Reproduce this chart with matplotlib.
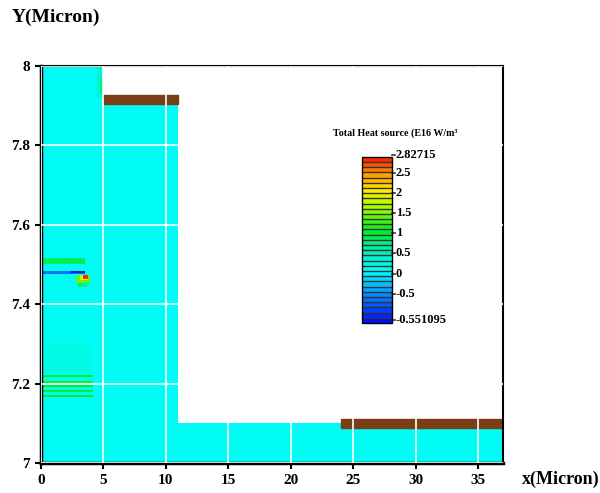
import numpy as np
import matplotlib
matplotlib.use('Agg')
import matplotlib.pyplot as plt
from matplotlib.colors import LinearSegmentedColormap, ListedColormap, BoundaryNorm
from matplotlib.patches import Rectangle

plt.rcParams['font.family'] = ['Liberation Serif', 'DejaVu Serif']
plt.rcParams['font.weight'] = 'bold'

# electrodes: x0, x1, y0, y1 (micron)
elec_x0 = [5, 24]
elec_x1 = [11, 37]
elec_y0 = [7.905, 7.088]
elec_y1 = [7.927, 7.111]

# heat source features: y0, y1, x0, x1, value (E16 W/m^3)
feat_y0 = [7.225, 7.503, 7.476, 7.477, 7.442, 7.452, 7.460, 7.464,
           7.217, 7.202, 7.191, 7.179, 7.167, 7.92, 7.93]
feat_y1 = [7.300, 7.518, 7.484, 7.482, 7.473, 7.473, 7.473, 7.473,
           7.223, 7.208, 7.197, 7.185, 7.173, 8.0, 7.97]
feat_x0 = [0.0, 0.0, 0.0, 2.4, 3.0, 2.8, 3.1, 3.4,
           0.0, 0.0, 0.0, 0.0, 0.0, 4.5, 4.75]
feat_x1 = [4.0, 3.5, 3.5, 3.45, 3.7, 3.9, 3.8, 3.75,
           4.2, 4.2, 4.2, 4.2, 4.2, 5.0, 5.0]
feat_val = [0.25, 0.85, -0.3, -0.5, 0.7, 1.4, 1.9, 2.8,
            1.0, 1.1, 1.0, 0.9, 1.0, 0.3, 0.7]

vmin, vmax = -0.551095, 2.82715
cb_labels = ['2.82715', '2.5', '2', '1.5', '1', '0.5', '0', '-0.5', '-0.551095']

# colour bands: 10 below zero, 22 above
levels = np.concatenate([np.linspace(vmin, 0, 11), np.linspace(0, vmax, 23)[1:]])
band_pos = [0.0, 0.15, 0.3125, 0.45, 0.56, 0.70, 0.80, 0.90, 1.0]
band_col = ['#0000ff', '#0078ff', '#00ffff', '#00f0b0', '#00f020', '#a0ff00',
            '#ffee00', '#ff9a00', '#ff1a00']

base = LinearSegmentedColormap.from_list('hs', list(zip(band_pos, band_col)))
nb = len(levels) - 1
cmap = ListedColormap([base((i + 0.5) / nb) for i in range(nb)])
cmap.set_bad('white')
norm = BoundaryNorm(levels, cmap.N)

# field on a grid
xe = np.linspace(0, 37, 371)
ye = np.linspace(7, 8, 801)
xc = 0.5 * (xe[:-1] + xe[1:])
yc = 0.5 * (ye[:-1] + ye[1:])
X, Y = np.meshgrid(xc, yc)
field = np.zeros_like(X)
for y0, y1, x0, x1, v in zip(feat_y0, feat_y1, feat_x0, feat_x1, feat_val):
    field[(Y >= y0) & (Y <= y1) & (X >= x0) & (X <= x1)] = v
inside = ((X <= 5) | ((X <= 11) & (Y <= 7.905)) | (Y <= 7.1))
field = np.ma.masked_where(~inside, field)

fig = plt.figure(figsize=(6, 4.93), dpi=100)
ax = fig.add_axes([0.0683, 0.0609, 0.77, 0.805])
ax.pcolormesh(xe, ye, field, cmap=cmap, norm=norm, zorder=1)
for x0, x1, y0, y1 in zip(elec_x0, elec_x1, elec_y0, elec_y1):
    ax.add_patch(Rectangle((x0, y0), x1 - x0, y1 - y0, color='#7a3e16', zorder=1.2))
ax.set_xlim(0, 37)
ax.set_ylim(7, 8)
ax.set_xticks([0, 5, 10, 15, 20, 25, 30, 35])
ax.set_yticks([7, 7.2, 7.4, 7.6, 7.8, 8])
ax.set_yticklabels(['7', '7.2', '7.4', '7.6', '7.8', '8'])
ax.grid(color='white', lw=1.2, zorder=2)
ax.set_axisbelow(False)
ax.tick_params(direction='out', length=4, width=1.5, labelsize=11, pad=4)
for s in ax.spines.values():
    s.set_linewidth(1.5)
ax.spines['left'].set_linewidth(2.5)
ax.spines['bottom'].set_linewidth(2.5)

fig.text(0.02, 0.965, 'Y(Micron)', fontsize=14, fontweight='bold', va='center')
fig.text(0.87, 0.027, 'x(Micron)', fontsize=13, fontweight='bold', va='center')

# colour bar, bands drawn evenly
cax = fig.add_axes([0.603, 0.345, 0.05, 0.337])
sm = plt.cm.ScalarMappable(norm=norm, cmap=cmap)
cb = fig.colorbar(sm, cax=cax, boundaries=levels, spacing='uniform', drawedges=True)
cb.dividers.set_color('#333333')
cb.dividers.set_linewidth(1.0)
cb.outline.set_linewidth(1.0)
cb.set_ticks([])
cax.minorticks_off()

# labels spaced evenly down the bar, ends at the bar ends
n = len(cb_labels)
for i, lab in enumerate(cb_labels):
    if i == 0:
        yf = 1.01
    elif i == n - 1:
        yf = 0.02
    else:
        yf = 1 - (0.096 + 0.1215 * (i - 1))
    cax.plot([1.0, 1.12], [yf, yf], color='#333333', lw=1.2,
             transform=cax.transAxes, clip_on=False)
    cax.text(1.14, yf, lab, fontsize=9, fontweight='bold', va='center', ha='left',
             transform=cax.transAxes)

fig.text(0.555, 0.73, 'Total Heat source (E16 W/m\u00b3', fontsize=7.2, fontweight='bold', va='center')

plt.savefig('out.png')
